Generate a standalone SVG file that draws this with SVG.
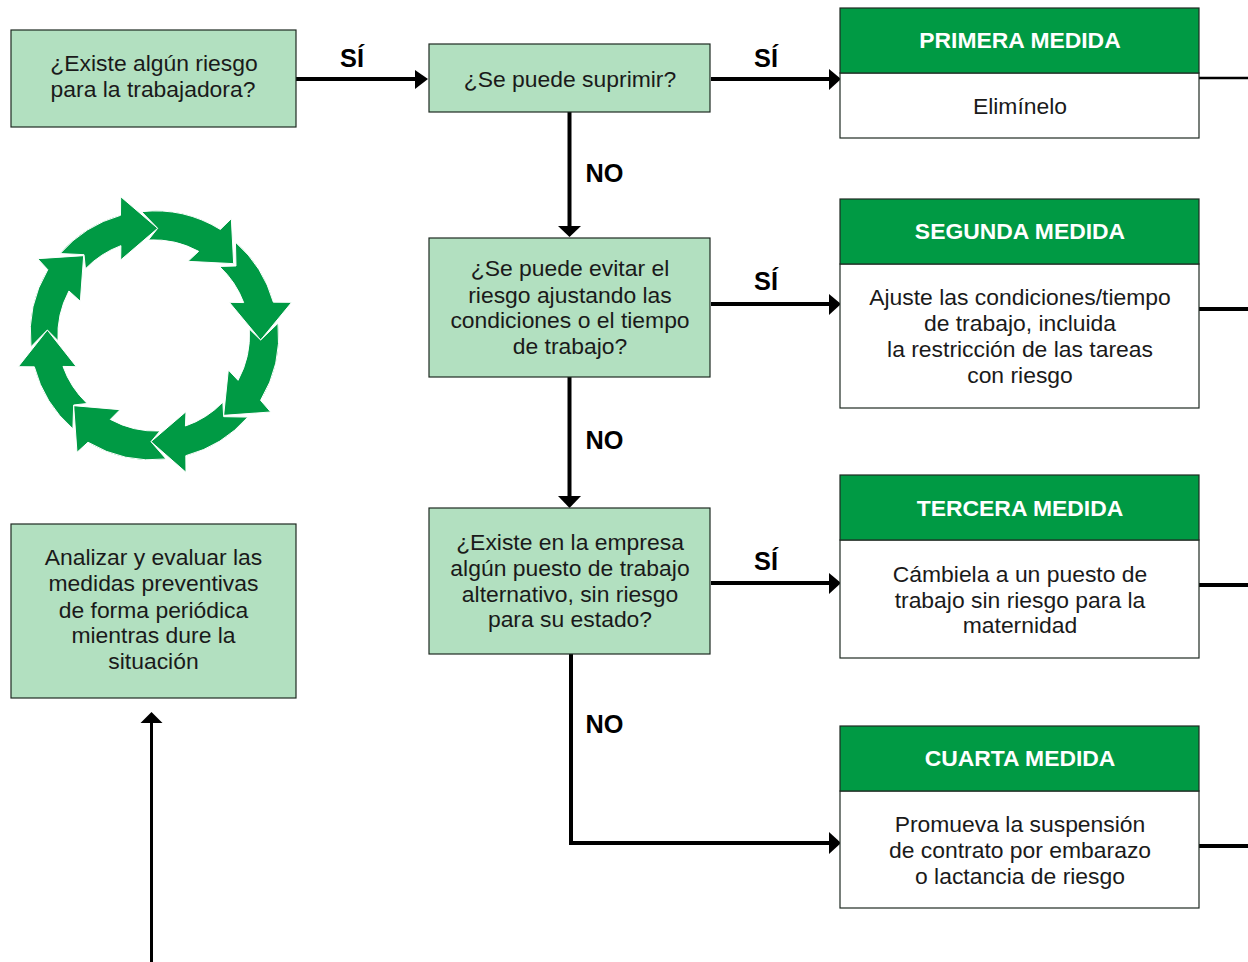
<svg xmlns="http://www.w3.org/2000/svg" width="1248" height="962" viewBox="0 0 1248 962">
<style>
text{font-family:"Liberation Sans",Arial,sans-serif;text-anchor:middle;fill:#1a1a1a;font-size:22.9px}
.q{fill:#b2e0c0;stroke:#1f2a22;stroke-width:1.2}
.h{fill:#009a44;stroke:#1f2a22;stroke-width:1.2}
.b{fill:#fff;stroke:#1f2a22;stroke-width:1.2}
.t{fill:#fff;font-weight:bold;font-size:22.9px}
.l{fill:#000;font-weight:bold;font-size:25.3px}
.c{fill:none;stroke:#000;stroke-width:4}
.a{fill:#000}
.r path{fill:#009a44;stroke:#fff;stroke-width:3}
</style>
<g id="connectors">
<path class="c" d="M296 79H417"/><path class="a" d="M415 70L428 79L415 89Z"/>
<path class="c" d="M711 79H829"/><path class="a" d="M829 69L841 79L829 90Z"/>
<path class="c" d="M569.500 112V226"/><path class="a" d="M558 226H581L569.500 237Z"/>
<path class="c" d="M711 304H829"/><path class="a" d="M829 294L841 304L829 315Z"/>
<path class="c" d="M569.500 377V497"/><path class="a" d="M558 496H581L569.500 508Z"/>
<path class="c" d="M711 583H829"/><path class="a" d="M829 573L841 583L829 594Z"/>
<path class="c" d="M571 654V843H829"/><path class="a" d="M829 832L841 843L829 854Z"/>
<path d="M1199 78H1248" fill="none" stroke="#000" stroke-width="2.5"/>
<path d="M1199 309H1248M1199 585H1248M1199 846H1248" fill="none" stroke="#000" stroke-width="4"/>
<path d="M151.500 962V722" fill="none" stroke="#000" stroke-width="3"/><path class="a" d="M140.500 723H162.500L151.500 712Z"/>
</g>
<g id="label-si-1"><text class="l" x="352" y="67">SÍ</text></g>
<g id="label-si-2"><text class="l" x="766" y="67">SÍ</text></g>
<g id="label-si-3"><text class="l" x="766" y="290">SÍ</text></g>
<g id="label-si-4"><text class="l" x="766" y="570">SÍ</text></g>
<g id="label-no-1"><text class="l" x="604.500" y="182">NO</text></g>
<g id="label-no-2"><text class="l" x="604.500" y="449">NO</text></g>
<g id="label-no-3"><text class="l" x="604.500" y="733">NO</text></g>
<g id="q1"><rect class="q" x="11" y="30" width="285" height="97"/><text x="154" y="71">¿Existe algún riesgo</text><text x="153" y="97">para la trabajadora?</text></g>
<g id="q2"><rect class="q" x="429" y="44" width="281" height="68"/><text x="570" y="87">¿Se puede suprimir?</text></g>
<g id="q3"><rect class="q" x="429" y="238" width="281" height="139"/><text x="570" y="276">¿Se puede evitar el</text><text x="570" y="303">riesgo ajustando las</text><text x="570" y="328">condiciones o el tiempo</text><text x="570" y="354">de trabajo?</text></g>
<g id="q4"><rect class="q" x="429" y="508" width="281" height="146"/><text x="570" y="550">¿Existe en la empresa</text><text x="570" y="576">algún puesto de trabajo</text><text x="570" y="602">alternativo, sin riesgo</text><text x="570" y="627.400">para su estado?</text></g>
<g id="analizar"><rect class="q" x="11" y="524" width="285" height="174"/><text x="153.500" y="565">Analizar y evaluar las</text><text x="153.500" y="591">medidas preventivas</text><text x="153.500" y="618">de forma periódica</text><text x="153.500" y="643">mientras dure la</text><text x="153.500" y="669">situación</text></g>
<g id="m1"><rect class="b" x="840" y="73" width="359" height="65"/><rect class="h" x="840" y="8" width="359" height="65"/><text class="t" x="1020" y="48">PRIMERA MEDIDA</text><text x="1020" y="114">Elimínelo</text></g>
<g id="m2"><rect class="b" x="840" y="264" width="359" height="144"/><rect class="h" x="840" y="199" width="359" height="65"/><text class="t" x="1020" y="239">SEGUNDA MEDIDA</text><text x="1020" y="305">Ajuste las condiciones/tiempo</text><text x="1020" y="331.400">de trabajo, incluida</text><text x="1020" y="357">la restricción de las tareas</text><text x="1020" y="383">con riesgo</text></g>
<g id="m3"><rect class="b" x="840" y="540" width="359" height="118"/><rect class="h" x="840" y="475" width="359" height="65"/><text class="t" x="1020" y="516">TERCERA MEDIDA</text><text x="1020" y="582">Cámbiela a un puesto de</text><text x="1020" y="608">trabajo sin riesgo para la</text><text x="1020" y="633">maternidad</text></g>
<g id="m4"><rect class="b" x="840" y="791" width="359" height="117"/><rect class="h" x="840" y="726" width="359" height="65"/><text class="t" x="1020" y="766">CUARTA MEDIDA</text><text x="1020" y="832">Promueva la suspensión</text><text x="1020" y="858">de contrato por embarazo</text><text x="1020" y="884">o lactancia de riesgo</text></g>
<g id="cycle" class="r" transform="translate(0 180) scale(.33333)">
<path d="M180.500 220.700A373 373 0 0 1 361.500 106L362 50L473 145L362 240L362.700 197A285 285 0 0 0 256.400 266.400L252 224Z"/>
<path d="M424.800 95A373 373 0 0 1 661 148.300L694 116L701 251L564 244L596 214A285 285 0 0 0 445.100 180L473 145Z"/>
<path d="M706.300 186.500A373 373 0 0 1 820 366.500L875 367L782 480L688 367L731 367.700A285 285 0 0 0 658.600 259.400L708 258Z"/>
<path d="M834 429.800A373 373 0 0 1 781.700 661L812 696L671 706L685 570L714.200 601A285 285 0 0 0 748 447.100L782 480Z"/>
<path d="M743.500 711.300A373 373 0 0 1 557.500 827L558 877L453 785L558 695L556.300 738A285 285 0 0 0 668.600 666.600L671 710Z"/>
<path d="M498.200 837A373 373 0 0 1 264 786.700L231 817L221 677L360 689L331 718.200A285 285 0 0 0 479.900 753L453 785Z"/>
<path d="M218.700 746.500A373 373 0 0 1 103 560.500L55 560L142 450L229 560L189 559.300A285 285 0 0 0 261.400 670.600L221 675Z"/>
<path d="M93 500.200A373 373 0 0 1 143.300 269L113 236L251 227L241 364L206.800 333A285 285 0 0 0 174 481.900L142 450Z"/>
</g>
</svg>
